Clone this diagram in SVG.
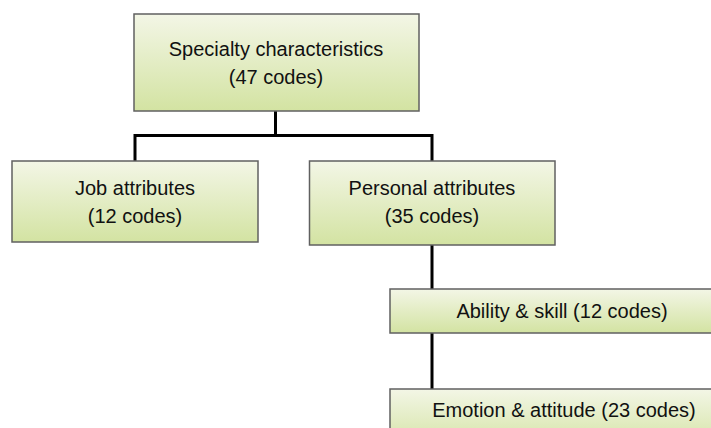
<svg xmlns="http://www.w3.org/2000/svg" width="711" height="428" viewBox="0 0 711 428">
<defs>
<linearGradient id="g" x1="0" y1="0" x2="0" y2="1">
<stop offset="0" stop-color="#f3f6e6"/>
<stop offset="1" stop-color="#d3e3a2"/>
</linearGradient>
<style>
.box{fill:url(#g);stroke:#606060;stroke-width:1.5}
.t{font-family:"Liberation Sans",Arial,sans-serif;font-size:20px;fill:#111;text-anchor:middle}
.c{fill:none;stroke:#000;stroke-width:3}
</style>
</defs>
<rect width="711" height="428" fill="#fff"/>
<g id="connectors">
<path class="c" d="M275.5 111V135.5M135 161V135.5H432V161"/>
<path class="c" d="M432 245V289M432 333V389"/>
</g>
<g id="n-specialty">
<rect class="box" x="134" y="14" width="285" height="97"/>
<text class="t" x="276" y="56">Specialty characteristics</text>
<text class="t" x="276" y="84">(47 codes)</text>
</g>
<g id="n-job">
<rect class="box" x="12" y="161" width="246" height="81"/>
<text class="t" x="135" y="195">Job attributes</text>
<text class="t" x="135" y="223">(12 codes)</text>
</g>
<g id="n-personal">
<rect class="box" x="309.5" y="161" width="245.5" height="84"/>
<text class="t" x="432" y="195">Personal attributes</text>
<text class="t" x="432" y="223">(35 codes)</text>
</g>
<g id="n-ability">
<rect class="box" x="390" y="289" width="344" height="44"/>
<text class="t" x="562" y="318">Ability &amp; skill (12 codes)</text>
</g>
<g id="n-emotion">
<rect class="box" x="390" y="389" width="344" height="60"/>
<text class="t" x="564" y="417">Emotion &amp; attitude (23 codes)</text>
</g>
</svg>
